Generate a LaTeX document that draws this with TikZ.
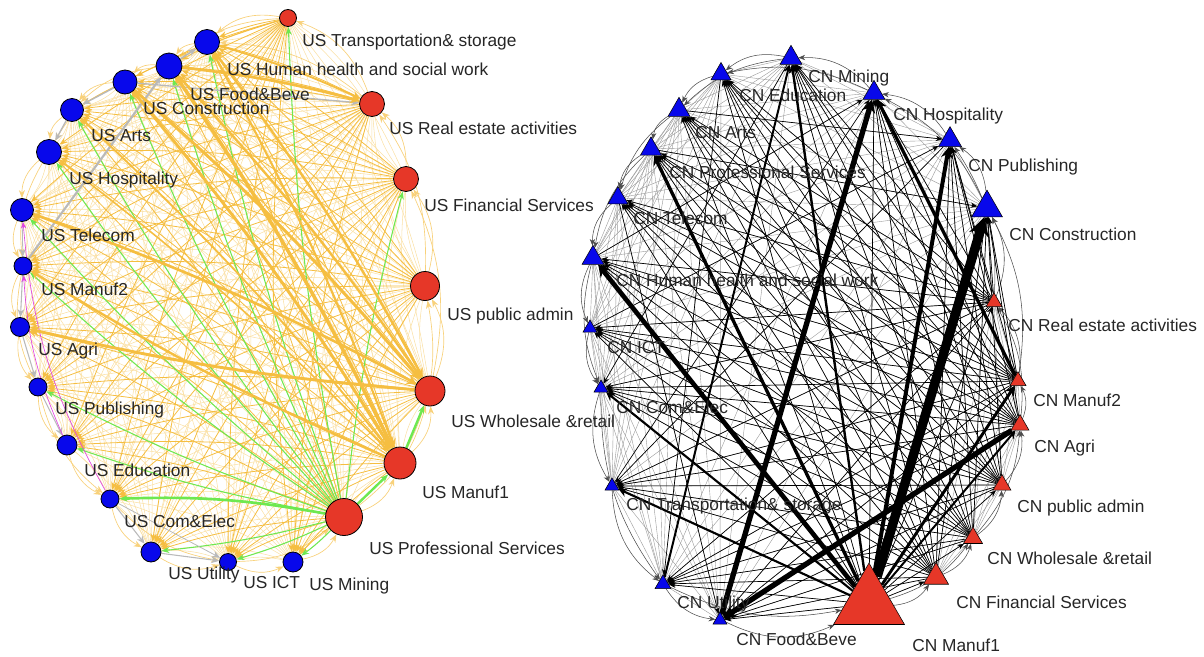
\documentclass[tikz,border=0pt]{standalone}
\usepackage{fontspec}
\setmainfont{Liberation Sans}
\usetikzlibrary{positioning,shapes.geometric,arrows.meta}

\definecolor{usblue}{RGB}{8,8,235}
\definecolor{usred}{RGB}{230,55,40}
\definecolor{usorange}{RGB}{245,190,65}
\definecolor{uslight}{RGB}{250,224,165}
\definecolor{usgreen}{RGB}{110,232,80}
\definecolor{usgray}{RGB}{185,185,185}
\definecolor{uspink}{RGB}{225,70,225}

\pgfdeclarelayer{bg}
\pgfsetlayers{bg,main}

\tikzset{
  bnode/.style={circle, draw=black, line width=0.6pt, fill=usblue, inner sep=0pt, minimum size=#1},
  rnode/.style={circle, draw=black, line width=0.6pt, fill=usred, inner sep=0pt, minimum size=#1},
  btri/.style={regular polygon, regular polygon sides=3, draw=black, line width=0.4pt, fill=usblue, inner sep=0pt, minimum size=#1},
  rtri/.style={regular polygon, regular polygon sides=3, draw=black, line width=0.4pt, fill=usred, inner sep=0pt, minimum size=#1},
  lbl/.style={anchor=west, inner sep=0pt, text=black!85, font=\fontsize{13}{15}\selectfont},
  usmesh/.style={draw=uslight, line width=0.4pt},
  usarr/.style={draw=usorange, line width=0.6pt, -{Stealth[length=6pt,width=4.5pt]}},
  usarc/.style={draw=usorange!70, line width=0.5pt, -{Stealth[length=6pt,width=4.5pt]}},
  usgr/.style={draw=usgreen, line width=0.8pt, -{Stealth[length=6pt,width=4.5pt]}},
  usgy/.style={draw=usgray, -{Stealth[length=6pt,width=5pt]}},
  cnmesh/.style={draw=black!40, line width=0.3pt},
  cnarr/.style={draw=black, line width=0.5pt, -{Stealth[length=5pt,width=4pt]}},
  cnarc/.style={draw=black!70, line width=0.4pt, -{Stealth[length=5pt,width=4pt]}}
}

\begin{document}
\begin{tikzpicture}[x=0.75pt, y=-0.75pt]
    \useasboundingbox (0,0) rectangle (1204,657);

    % US network
    \node[rnode=12.75pt] (u1) at (288,18) {};
    \node[bnode=18.75pt] (u2) at (207,42) {};
    \node[bnode=19.5pt] (u3) at (169,66) {};
    \node[bnode=18pt] (u4) at (125,82) {};
    \node[bnode=17.25pt] (u5) at (72,110) {};
    \node[bnode=18.75pt] (u6) at (49,152) {};
    \node[bnode=17.25pt] (u7) at (22,210) {};
    \node[bnode=13.5pt] (u8) at (23,266) {};
    \node[bnode=14.25pt] (u9) at (20,327) {};
    \node[bnode=13.5pt] (u10) at (38,387) {};
    \node[bnode=15pt] (u11) at (67,445) {};
    \node[bnode=13.5pt] (u12) at (110,499) {};
    \node[bnode=15pt] (u13) at (151,552) {};
    \node[bnode=12.75pt] (u14) at (228,562) {};
    \node[bnode=15pt] (u15) at (293,562) {};
    \node[rnode=27.75pt] (u16) at (344,517) {};
    \node[rnode=24pt] (u17) at (400,463) {};
    \node[rnode=22.5pt] (u18) at (430,391) {};
    \node[rnode=21.75pt] (u19) at (425,286) {};
    \node[rnode=18.75pt] (u20) at (406,179) {};
    \node[rnode=18.75pt] (u21) at (372,104) {};

    % CN network
    \node[btri=19pt] (c1) at (791,58) {};
    \node[btri=17.3pt] (c2) at (721,74) {};
    \node[btri=19pt] (c3) at (679,110) {};
    \node[btri=18.2pt] (c4) at (651,149) {};
    \node[btri=17.3pt] (c5) at (618,198) {};
    \node[btri=19pt] (c6) at (593,258) {};
    \node[btri=12.1pt] (c7) at (590,328) {};
    \node[btri=12.1pt] (c8) at (601,388) {};
    \node[btri=12.1pt] (c9) at (612,486) {};
    \node[btri=13.9pt] (c10) at (663,584) {};
    \node[btri=12.1pt] (c11) at (720,620) {};
    \node[rtri=61.5pt] (c12) at (869,604) {};
    \node[rtri=21.7pt] (c13) at (936,577) {};
    \node[rtri=16.5pt] (c14) at (973,538) {};
    \node[rtri=15.6pt] (c15) at (1002,485) {};
    \node[rtri=15.6pt] (c16) at (1020,425) {};
    \node[rtri=13.9pt] (c17) at (1018,381) {};
    \node[rtri=13.9pt] (c18) at (994,302) {};
    \node[btri=26.8pt] (c19) at (987,208) {};
    \node[btri=20pt] (c20) at (950,140) {};
    \node[btri=19pt] (c21) at (874,93) {};

    \begin{pgfonlayer}{bg}
    % background mesh
    \foreach \i in {1,...,20}{
        \pgfmathtruncatemacro\k{\i+1}
        \foreach \j in {\k,...,21}{
            \draw[usmesh] (u\i) to[bend left=12] (u\j);
            \draw[cnmesh] (c\i) -- (c\j);
        }
    }
    % rim arcs
    \foreach \i/\j in {1/2,2/3,3/4,4/5,5/6,6/7,7/8,8/9,9/10,10/11,11/12,12/13,13/14,14/15,15/16,16/17,17/18,18/19,19/20,20/21,21/1}{
        \draw[usarc] (u\i) to[bend right=25] (u\j);
        \draw[cnarc] (c\i) to[bend right=25] (c\j);
    }
    \foreach \i/\j in {1/3,3/5,4/6,6/8,8/10,10/12,12/14,14/16,17/19,19/21,21/2,16/18,18/20}{
        \draw[usarc] (u\i) to[bend right=18] (u\j);
        \draw[cnarc] (c\i) to[bend right=18] (c\j);
    }
    % supply edges
    \foreach \s in {1,16,17,18,19,20,21}{
        \foreach \t in {2,...,15}{
            \draw[usarr] (u\s) to[bend right=6] (u\t);
        }
    }
    \foreach \s in {12,13,14,15,16,17,18}{
        \foreach \t in {1,...,11,19,20,21}{
            \draw[cnarr] (c\s) -- (c\t);
        }
    }
    \foreach \t in {13,...,18}{
        \draw[cnarr] (c12) -- (c\t);
    }
    \foreach \s/\t in {4/19,6/21,3/20,5/11,2/10,9/21,1/8,7/20,20/9}{
        \draw[cnarr] (c\s) -- (c\t);
    }
    % green links
    \foreach \t in {1,2,3,4,5,6,7,8,10,11,13,14,15,20}{
        \draw[usgr] (u16) to[bend left=4] (u\t);
    }
    \draw[usgr, line width=2pt] (u16) to[bend right=6] (u12);
    \draw[usgr, line width=1.8pt] (u16) -- (u17);
    \draw[usgr, line width=1.8pt] (u17) -- (u18);
    % grey links
    \foreach \s/\t/\w in {8/3/1.6, 3/2/1.2, 4/5/1, 5/6/1, 4/21/1, 8/9/0.8, 9/10/0.8, 10/11/0.8, 12/13/0.8, 13/14/0.8, 12/14/0.6, 7/8/0.6}{
        \draw[usgy, line width=\w pt] (u\s) -- (u\t);
    }
    \draw[uspink, line width=0.5pt, -{Stealth[length=5pt,width=4pt]}] (u12) to[bend left=12] (u7);
    \draw[uspink, line width=0.5pt, -{Stealth[length=5pt,width=4pt]}] (u11) to[bend left=10] (u8);
    % heavy US flows
    \foreach \s/\t/\w in {3/17/2.6, 4/17/2.2, 2/17/1.6, 5/17/1.4, 6/17/1.2, 2/18/1.8, 3/18/1.8, 4/18/2.2, 7/18/2, 18/9/2.2, 17/8/1.8, 3/21/2, 2/21/1.4}{
        \draw[usorange, line width=\w pt, -{Stealth[length=4pt 1.5, width=4pt 1.8]}] (u\s) to[bend left=4] (u\t);
    }
    % heavy CN flows
    \foreach \s/\t/\w in {12/19/7, 12/20/3, 11/21/4, 17/21/2.5, 12/6/3.5, 12/4/2.5, 16/11/4, 12/1/1.8, 12/8/1.6, 12/9/1.6, 12/17/2.2, 12/16/1.5, 10/1/1.5}{
        \draw[black, line width=\w pt, -{Stealth[length=4pt 1.4, width=4pt 1.6]}] (c\s) -- (c\t);
    }
    \end{pgfonlayer}

    % US labels
    \node[lbl] (lu1) at (302,42) {US Transportation\& storage};
    \node[lbl] (lu2) at (227,69) {US Human health and social work};
    \node[lbl] (lu3) at (190,94) {US Food\&Beve};
    \node[lbl] (lu4) at (143,108) {US Construction};
    \node[lbl] (lu5) at (91,136) {US Arts};
    \node[lbl] (lu6) at (69,180) {US Hospitality};
    \node[lbl] (lu7) at (41,235) {US Telecom};
    \node[lbl] (lu8) at (41,289) {US Manuf2};
    \node[lbl] (lu9) at (38,351) {US Agri};
    \node[lbl] (lu10) at (55,410) {US Publishing};
    \node[lbl] (lu11) at (84,470) {US Education};
    \node[lbl] (lu12) at (124,521) {US Com\&Elec};
    \node[lbl] (lu13) at (168,575) {US Utility};
    \node[lbl] (lu14) at (243,583) {US ICT};
    \node[lbl] (lu15) at (309,586) {US Mining};
    \node[lbl] (lu16) at (369,548) {US Professional Services};
    \node[lbl] (lu17) at (422,492) {US Manuf1};
    \node[lbl] (lu18) at (451,421) {US Wholesale \&retail};
    \node[lbl] (lu19) at (447,316) {US public admin};
    \node[lbl] (lu20) at (424,205) {US Financial Services};
    \node[lbl] (lu21) at (389,128) {US Real estate activities};

    % CN labels
    \node[lbl] (lc1) at (808,78) {CN Mining};
    \node[lbl] (lc2) at (739,95) {CN Education};
    \node[lbl] (lc3) at (695,133) {CN Arts};
    \node[lbl] (lc4) at (669,172) {CN Professional Services};
    \node[lbl] (lc5) at (633,218) {CN Telecom};
    \node[lbl] (lc6) at (616,280) {CN Human health and social work};
    \node[lbl] (lc7) at (607,348) {CN ICT};
    \node[lbl] (lc8) at (616,407) {CN Com\&Elec};
    \node[lbl] (lc9) at (626,506) {CN Transportation\& storage};
    \node[lbl] (lc10) at (677,604) {CN Utility};
    \node[lbl] (lc11) at (736,639) {CN Food\&Beve};
    \node[lbl] (lc12) at (912,645) {CN Manuf1};
    \node[lbl] (lc13) at (956,602) {CN Financial Services};
    \node[lbl] (lc14) at (987,558) {CN Wholesale \&retail};
    \node[lbl] (lc15) at (1017,508) {CN public admin};
    \node[lbl] (lc16) at (1034,448) {CN Agri};
    \node[lbl] (lc17) at (1033,400) {CN Manuf2};
    \node[lbl] (lc18) at (1008,325) {CN Real estate activities};
    \node[lbl] (lc19) at (1009,234) {CN Construction};
    \node[lbl] (lc20) at (968,167) {CN Publishing};
    \node[lbl] (lc21) at (893,116) {CN Hospitality};
\end{tikzpicture}
\end{document}
